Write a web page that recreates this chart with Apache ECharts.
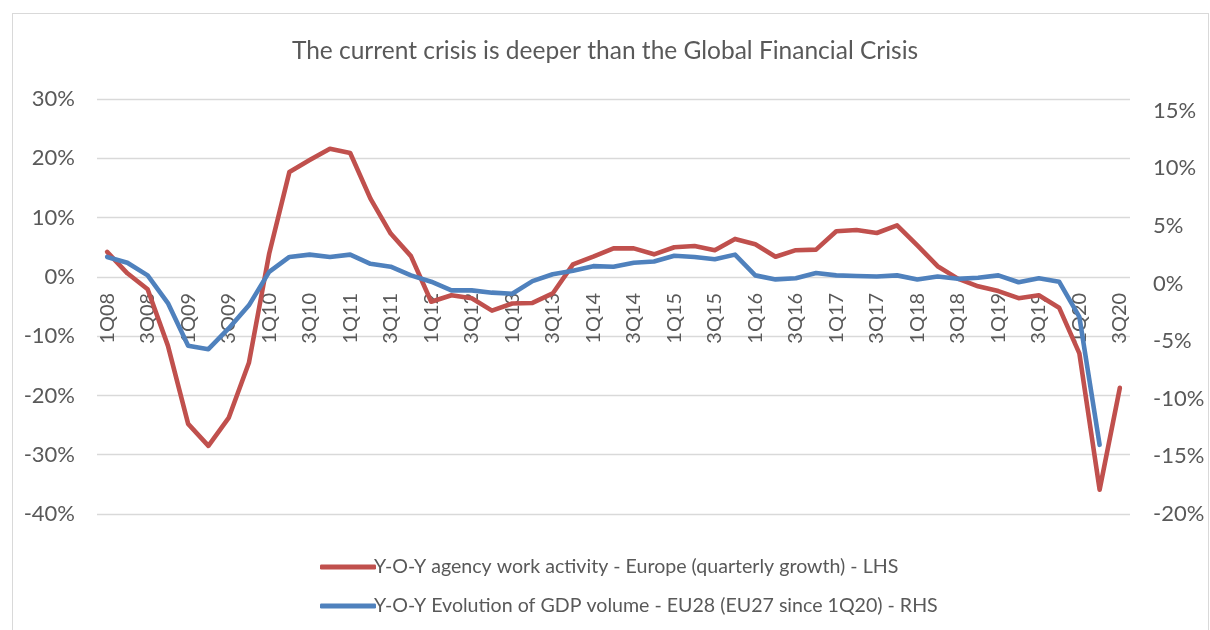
<!DOCTYPE html>
<html>
<head>
<meta charset="utf-8">
<script src="https://cdn.jsdelivr.net/npm/echarts@6/dist/echarts.min.js"></script>
<style>
  html, body { margin: 0; padding: 0; background: #ffffff; }
  #chart { position: absolute; left: 0; top: 0; width: 1210px; height: 630px; }
  #frame { position: absolute; left: 12px; top: 13px; width: 1195px; height: 640px; border: 1px solid #d9d9d9; pointer-events: none; }
</style>
</head>
<body>
<div id="chart"></div>
<div id="frame"></div>
<script>
const quarters = [
  '1Q08','2Q08','3Q08','4Q08','1Q09','2Q09','3Q09','4Q09',
  '1Q10','2Q10','3Q10','4Q10','1Q11','2Q11','3Q11','4Q11',
  '1Q12','2Q12','3Q12','4Q12','1Q13','2Q13','3Q13','4Q13',
  '1Q14','2Q14','3Q14','4Q14','1Q15','2Q15','3Q15','4Q15',
  '1Q16','2Q16','3Q16','4Q16','1Q17','2Q17','3Q17','4Q17',
  '1Q18','2Q18','3Q18','4Q18','1Q19','2Q19','3Q19','4Q19',
  '1Q20','2Q20','3Q20'
];

// Y-O-Y agency work activity - Europe (%), left axis
const agencyWork = [
  4.2, 0.6, -2.1, -11.6, -24.8, -28.5, -23.8, -14.5,
  3.9, 17.7, 19.7, 21.6, 20.9, 13.2, 7.3, 3.5,
  -4.2, -3.1, -3.6, -5.7, -4.5, -4.4, -2.8, 2.1,
  3.4, 4.8, 4.8, 3.8, 5.0, 5.2, 4.5, 6.4,
  5.5, 3.4, 4.5, 4.6, 7.7, 7.9, 7.4, 8.7,
  5.3, 1.8, -0.3, -1.6, -2.4, -3.6, -3.1, -5.2,
  -12.9, -35.9, -18.7
];

// Y-O-Y evolution of GDP volume - EU28 (EU27 since 1Q20) (%), right axis
const gdpVolume = [
  2.3, 1.8, 0.7, -1.7, -5.4, -5.7, -3.9, -1.9,
  1.0, 2.3, 2.5, 2.3, 2.5, 1.7, 1.45, 0.7,
  0.15, -0.6, -0.6, -0.8, -0.9, 0.2, 0.8, 1.1,
  1.5, 1.45, 1.8, 1.9, 2.4, 2.3, 2.1, 2.5,
  0.7, 0.35, 0.45, 0.9, 0.7, 0.65, 0.6, 0.7,
  0.35, 0.6, 0.4, 0.5, 0.7, 0.1, 0.45, 0.15,
  -2.9, -14.0, null
];

const seriesNames = [
  'Y-O-Y agency work activity - Europe (quarterly growth) - LHS',
  'Y-O-Y Evolution of GDP volume - EU28 (EU27 since 1Q20) - RHS'
];
const titleText = 'The current crisis is deeper than the Global Financial Crisis';

const FONT = 'Lato';
const TXT = '#595959';
const GRIDC = '#d9d9d9';

// layout
const GRID = { left: 97, right: 80, top: 99, bottom: 116 };
const LEFT_MIN = -40, LEFT_MAX = 30;
const plotH = 630 - GRID.top - GRID.bottom;
// move the category axis up to the 0% level of the left axis
const zeroOffset = -plotH * (0 - LEFT_MIN) / (LEFT_MAX - LEFT_MIN);

const chart = echarts.init(document.getElementById('chart'), null, { renderer: 'canvas' });
chart.setOption({
  animation: false,
  backgroundColor: '#ffffff',
  textStyle: { fontFamily: FONT, color: TXT },
  title: {
    text: titleText,
    left: 'center',
    top: 34,
    padding: [5, 5, 5, 19],
    textStyle: { fontFamily: FONT, fontSize: 24.5, fontWeight: 'normal', color: TXT }
  },
  legend: {
    orient: 'vertical',
    left: 315,
    top: 552,
    itemGap: 19,
    itemWidth: 56,
    itemHeight: 5,
    icon: 'roundRect',
    textStyle: { fontFamily: FONT, fontSize: 19.6, color: TXT, padding: [0, 0, 0, -7] },
    data: seriesNames
  },
  grid: { left: GRID.left, right: GRID.right, top: GRID.top, bottom: GRID.bottom, containLabel: false },
  xAxis: {
    type: 'category',
    data: quarters,
    boundaryGap: true,
    position: 'bottom',
    offset: zeroOffset,
    axisLine: { show: false, onZero: false },
    axisTick: { show: false },
    axisLabel: {
      interval: 1,
      rotate: 90,
      margin: 16,
      fontFamily: FONT,
      fontSize: 20,
      color: TXT
    },
    splitLine: { show: false }
  },
  yAxis: [
    {
      type: 'value',
      min: LEFT_MIN, max: LEFT_MAX, interval: 10,
      position: 'left',
      axisLine: { show: false },
      axisTick: { show: false },
      axisLabel: { margin: 22, fontFamily: FONT, fontSize: 22, color: TXT, formatter: v => v + '%' },
      splitLine: { show: true, lineStyle: { color: GRIDC, width: 1.3 } }
    },
    {
      type: 'value',
      min: -20, max: 16, interval: 5,
      position: 'right',
      axisLine: { show: false },
      axisTick: { show: false },
      axisLabel: {
        margin: 23, fontFamily: FONT, fontSize: 22, color: TXT,
        formatter: v => (v % 5 === 0 ? v + '%' : '')
      },
      splitLine: { show: false }
    }
  ],
  series: [
    {
      name: seriesNames[0],
      type: 'line',
      yAxisIndex: 0,
      data: agencyWork,
      symbol: 'none',
      smooth: false,
      color: '#C0504D',
      lineStyle: { width: 4.6, color: '#C0504D', cap: 'round', join: 'round' },
      z: 2
    },
    {
      name: seriesNames[1],
      type: 'line',
      yAxisIndex: 1,
      data: gdpVolume,
      symbol: 'none',
      smooth: false,
      connectNulls: false,
      color: '#4F81BD',
      lineStyle: { width: 4.6, color: '#4F81BD', cap: 'round', join: 'round' },
      z: 3
    }
  ]
});
</script>
</body>
</html>
